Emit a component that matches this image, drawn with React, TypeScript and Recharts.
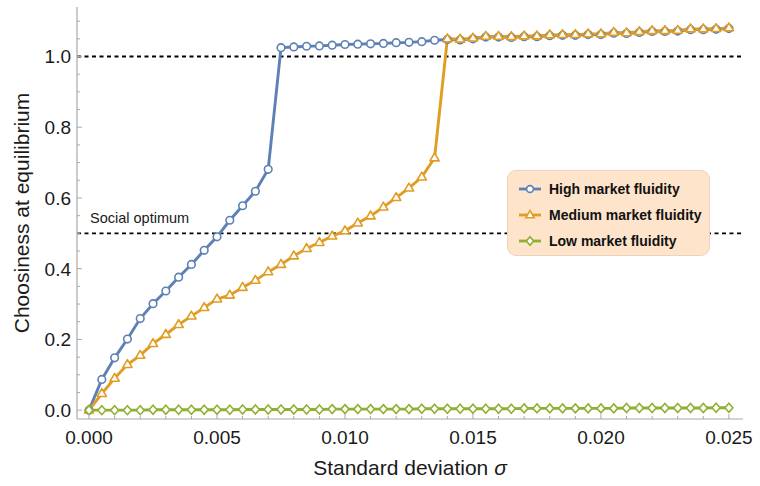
import React from "react";
import { LineChart, Line, XAxis, YAxis, ReferenceLine, Label } from "recharts";

// sigma grid used for every series
const sigma = [
  0, 0.0005, 0.001, 0.0015, 0.002, 0.0025, 0.003, 0.0035, 0.004, 0.0045,
  0.005, 0.0055, 0.006, 0.0065, 0.007, 0.0075, 0.008, 0.0085, 0.009, 0.0095,
  0.01, 0.0105, 0.011, 0.0115, 0.012, 0.0125, 0.013, 0.0135, 0.014, 0.0145,
  0.015, 0.0155, 0.016, 0.0165, 0.017, 0.0175, 0.018, 0.0185, 0.019, 0.0195,
  0.02, 0.0205, 0.021, 0.0215, 0.022, 0.0225, 0.023, 0.0235, 0.024, 0.0245,
  0.025,
];

const highFluidity = [
  0, 0.087, 0.148, 0.201, 0.259, 0.301, 0.337, 0.376, 0.412, 0.452,
  0.49, 0.537, 0.578, 0.619, 0.681, 1.025, 1.027, 1.029, 1.03, 1.032,
  1.034, 1.035, 1.036, 1.037, 1.039, 1.04, 1.042, 1.046, 1.048, 1.047,
  1.05, 1.055, 1.055, 1.054, 1.056, 1.056, 1.059, 1.06, 1.06, 1.062,
  1.062, 1.066, 1.065, 1.068, 1.071, 1.071, 1.072, 1.076, 1.076, 1.077,
  1.079,
];

const mediumFluidity = [
  0, 0.047, 0.09, 0.129, 0.155, 0.188, 0.214, 0.242, 0.266, 0.29,
  0.314, 0.325, 0.347, 0.367, 0.391, 0.412, 0.436, 0.457, 0.474, 0.492,
  0.507, 0.529, 0.549, 0.574, 0.601, 0.628, 0.659, 0.713, 1.05, 1.049,
  1.052, 1.057, 1.057, 1.056, 1.058, 1.058, 1.061, 1.062, 1.062, 1.064,
  1.064, 1.068, 1.067, 1.07, 1.073, 1.073, 1.074, 1.078, 1.078, 1.079,
  1.081,
];

const lowFluidity = [
  0, 0, 0, 0, 0, 0.001, 0.001, 0.001, 0.001, 0.001,
  0.001, 0.001, 0.002, 0.002, 0.002, 0.002, 0.002, 0.002, 0.002, 0.003,
  0.003, 0.003, 0.003, 0.003, 0.003, 0.003, 0.004, 0.004, 0.004, 0.004,
  0.004, 0.004, 0.004, 0.004, 0.005, 0.005, 0.005, 0.005, 0.005, 0.005,
  0.005, 0.005, 0.006, 0.006, 0.006, 0.006, 0.006, 0.006, 0.006, 0.007,
  0.007,
];

const xMajorTicks = [0, 0.005, 0.01, 0.015, 0.02, 0.025];
const yMajorTicks = [0, 0.2, 0.4, 0.6, 0.8, 1.0];
const xTicks = Array.from({ length: 26 }, (_, i) => i * 0.001);
const yTicks = Array.from({ length: 23 }, (_, i) => i * 0.05);

const BLUE = "#5e81b5";
const ORANGE = "#e19c24";
const GREEN = "#8fb032";
const AXIS = "#a8a8a8";
const FONT = "'Liberation Sans', Arial, Helvetica, sans-serif";

const data = sigma.map((s, i) => ({
  sigma: s,
  high: highFluidity[i],
  medium: mediumFluidity[i],
  low: lowFluidity[i],
}));

const isMajor = (v: number, list: number[]) =>
  list.some((m) => Math.abs(m - v) < 1e-9);

const XTick = (props: any) => {
  const { x, y, payload } = props;
  const major = isMajor(payload.value, xMajorTicks);
  return (
    <g>
      <line x1={x} x2={x} y1={y} y2={y - (major ? 5 : 3)} stroke={AXIS} strokeWidth={1} />
      {major && (
        <text x={x} y={y + 25} textAnchor="middle" fontSize={19} fill="#1a1a1a" fontFamily={FONT}>
          {payload.value.toFixed(3)}
        </text>
      )}
    </g>
  );
};

const YTick = (props: any) => {
  const { x, y, payload } = props;
  const major = isMajor(payload.value, yMajorTicks);
  return (
    <g>
      <line x1={x} x2={x + (major ? 5 : 3)} y1={y} y2={y} stroke={AXIS} strokeWidth={1} />
      {major && (
        <text x={x - 6} y={y} dy="0.36em" textAnchor="end" fontSize={19} fill="#1a1a1a" fontFamily={FONT}>
          {payload.value.toFixed(1)}
        </text>
      )}
    </g>
  );
};

const circleDot = (props: any) => {
  const { cx, cy, index } = props;
  return <circle key={`c${index}`} cx={cx} cy={cy} r={3.8} fill="#fff" stroke={BLUE} strokeWidth={1.6} />;
};

const triangleDot = (props: any) => {
  const { cx, cy, index } = props;
  const pts = `${cx},${cy - 5} ${cx - 4.6},${cy + 2.9} ${cx + 4.6},${cy + 2.9}`;
  return <polygon key={`t${index}`} points={pts} fill="#fff" stroke={ORANGE} strokeWidth={1.6} strokeLinejoin="round" />;
};

const diamondDot = (props: any) => {
  const { cx, cy, index } = props;
  const pts = `${cx},${cy - 4.5} ${cx + 4},${cy} ${cx},${cy + 4.5} ${cx - 4},${cy}`;
  return <polygon key={`d${index}`} points={pts} fill="#fff" stroke={GREEN} strokeWidth={1.6} />;
};

const legendItems = [
  { name: "High market fluidity", color: BLUE, shape: "circle" },
  { name: "Medium market fluidity", color: ORANGE, shape: "triangle" },
  { name: "Low market fluidity", color: GREEN, shape: "diamond" },
];

const LegendIcon = ({ color, shape }: { color: string; shape: string }) => (
  <svg width={24} height={12} style={{ display: "block" }}>
    <line x1={1} x2={23} y1={6} y2={6} stroke={color} strokeWidth={2.8} />
    {shape === "circle" && <circle cx={12} cy={6} r={3.4} fill="#fff" stroke={color} strokeWidth={1.6} />}
    {shape === "triangle" && (
      <polygon points="12,1.6 7.8,8.8 16.2,8.8" fill="#fff" stroke={color} strokeWidth={1.6} />
    )}
    {shape === "diamond" && (
      <polygon points="12,1.8 15.6,6 12,10.2 8.4,6" fill="#fff" stroke={color} strokeWidth={1.6} />
    )}
  </svg>
);

const App = () => {
  return (
    <div style={{ position: "absolute", left: 0, top: 0, width: 760, height: 486, fontFamily: FONT, background: "#fff" }}>
      <LineChart width={760} height={486} data={data} margin={{ top: 7, right: 17, bottom: 0, left: 0 }}>
        <XAxis
          dataKey="sigma"
          type="number"
          domain={[-0.00047, 0.02555]}
          allowDataOverflow
          ticks={xTicks}
          interval={0}
          height={67}
          tickSize={0}
          tickMargin={0}
          tickLine={false}
          tick={<XTick />}
          axisLine={{ stroke: AXIS, strokeWidth: 1.2 }}
        >
          <Label
            content={({ viewBox }: any) => (
              <text
                x={viewBox.x + viewBox.width / 2}
                y={viewBox.y + 56}
                textAnchor="middle"
                fontSize={21}
                fill="#1a1a1a"
                fontFamily={FONT}
              >
                Standard deviation <tspan fontStyle="italic">σ</tspan>
              </text>
            )}
          />
        </XAxis>
        <YAxis
          type="number"
          domain={[-0.025, 1.14]}
          allowDataOverflow
          ticks={yTicks}
          interval={0}
          width={77}
          tickSize={0}
          tickMargin={0}
          tickLine={false}
          tick={<YTick />}
          axisLine={{ stroke: AXIS, strokeWidth: 1.2 }}
        >
          <Label
            content={({ viewBox }: any) => {
              const cx = 29;
              const cy = viewBox.y + viewBox.height / 2;
              return (
                <text
                  x={cx}
                  y={cy}
                  transform={`rotate(-90, ${cx}, ${cy})`}
                  textAnchor="middle"
                  fontSize={21}
                  fill="#1a1a1a"
                  fontFamily={FONT}
                >
                  Choosiness at equilibrium
                </text>
              );
            }}
          />
        </YAxis>
        <ReferenceLine y={1} stroke="#000" strokeWidth={1.9} strokeDasharray="4 3.5" />
        <ReferenceLine y={0.5} stroke="#000" strokeWidth={1.9} strokeDasharray="4 3.5">
          <Label
            content={({ viewBox }: any) => (
              <text x={viewBox.x + 13} y={viewBox.y - 10} fontSize={14.5} fill="#1a1a1a" fontFamily={FONT}>
                Social optimum
              </text>
            )}
          />
        </ReferenceLine>
        <Line
          type="linear"
          dataKey="high"
          stroke={BLUE}
          strokeWidth={2.9}
          dot={circleDot}
          activeDot={false}
          isAnimationActive={false}
        />
        <Line
          type="linear"
          dataKey="medium"
          stroke={ORANGE}
          strokeWidth={2.9}
          dot={triangleDot}
          activeDot={false}
          isAnimationActive={false}
        />
        <Line
          type="linear"
          dataKey="low"
          stroke={GREEN}
          strokeWidth={2.9}
          dot={diamondDot}
          activeDot={false}
          isAnimationActive={false}
        />
      </LineChart>
      <div
        style={{
          position: "absolute",
          left: 507,
          top: 170,
          width: 203,
          height: 86,
          background: "#fde4cb",
          border: "1px solid #ecd3b9",
          borderRadius: 9,
          boxSizing: "border-box",
        }}
      >
        {legendItems.map((item, i) => (
          <div
            key={item.name}
            style={{
              position: "absolute",
              left: 10,
              top: 10 + i * 26,
              height: 16,
              display: "flex",
              alignItems: "center",
              whiteSpace: "nowrap",
            }}
          >
            <LegendIcon color={item.color} shape={item.shape} />
            <span style={{ marginLeft: 7, fontSize: 14, fontWeight: "bold", color: "#111" }}>{item.name}</span>
          </div>
        ))}
      </div>
    </div>
  );
};

export default App;
